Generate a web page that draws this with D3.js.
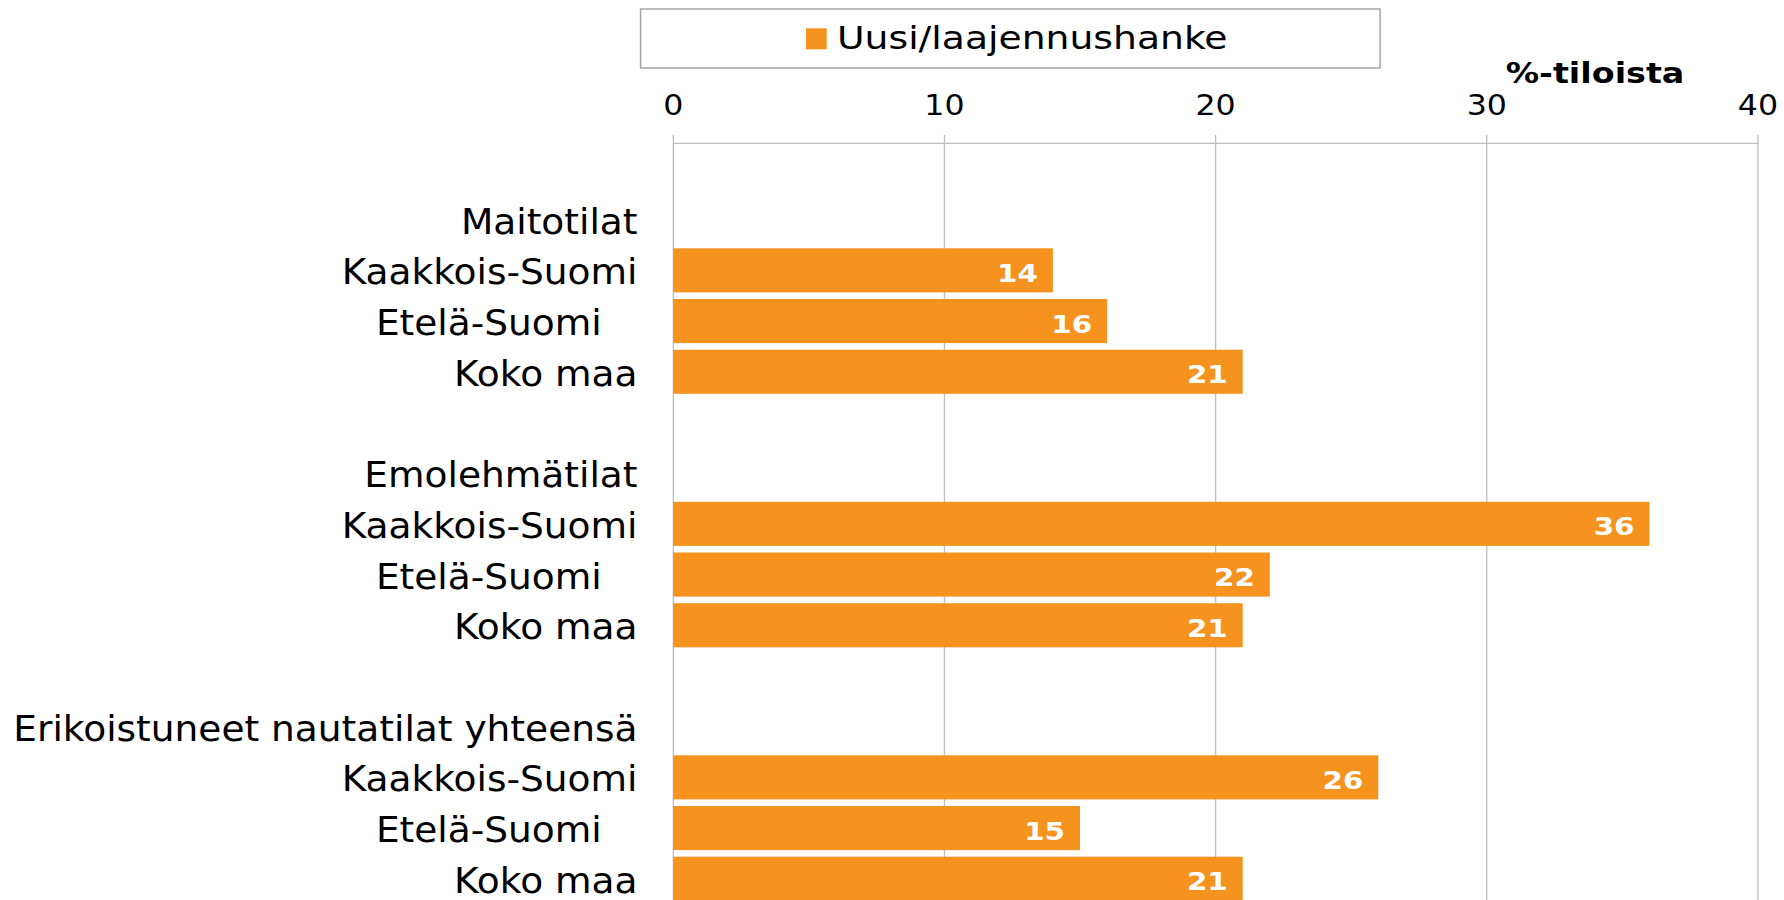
<!DOCTYPE html>
<html>
<head>
<meta charset="utf-8">
<script src="https://cdn.jsdelivr.net/npm/d3@7"></script>
<style>
  body { margin: 0; background: #fff; }
  text { font-family: Verdana, "DejaVu Sans", sans-serif; white-space: pre; }
</style>
</head>
<body>
<svg id="chart"></svg>
<script>
// data
var groups = ["Maitotilat", "Emolehmätilat", "Erikoistuneet nautatilat yhteensä"];
var regions = ["Kaakkois-Suomi", "Etelä-Suomi   ", "Koko maa"];
var maitotilat = [14, 16, 21];
var emolehmatilat = [36, 22, 21];
var nautatilatYht = [26, 15, 21];
var xTicks = [0, 10, 20, 30, 40];
var seriesName = "Uusi/laajennushanke";
var axisTitle = "%-tiloista";

var groupValues = [maitotilat, emolehmatilat, nautatilatYht];

// one row per line of the chart: blank, group header, then the regions
var rows = [];
groups.forEach(function (g, gi) {
        rows.push({ label: "", value: null });
        rows.push({ label: g, value: null });
        regions.forEach(function (r, ri) {
                rows.push({ label: r, value: groupValues[gi][ri] });
        });
});
rows = rows.map(function (d, i) { d.id = i; return d; });

var W = 1784, H = 900;
var SX = 1.15; // text in the original is a bit wider than DejaVu
var orange = "#f6921e";
var grid = "#bdbdbd";

var x0 = 673.3, x1 = 1757.9, yTop = 143.6, step = 50.7;

var x = d3.scaleLinear()
        .domain([0, 40])
        .range([x0, x1]);

var y = d3.scaleBand()
        .domain(rows.map(function (d) { return d.id; }))
        .range([yTop, yTop + rows.length * step])
        .paddingInner(0.13)
        .paddingOuter(0.065);

var svg = d3.select("#chart")
        .attr("width", W)
        .attr("height", H);

function stretched(sel, px, py, sx) {
        return sel.attr("transform", "translate(" + px + "," + py + ") scale(" + (sx || SX) + ",1)");
}

// grid lines (run from just above the axis to the bottom)
svg.append("g")
        .selectAll("line")
        .data(xTicks)
        .enter().append("line")
        .attr("x1", function (d) { return x(d); })
        .attr("x2", function (d) { return x(d); })
        .attr("y1", yTop - 8.5)
        .attr("y2", H)
        .attr("stroke", grid)
        .attr("stroke-width", 1.3);

// top axis line
svg.append("line")
        .attr("x1", x(0)).attr("x2", x(40))
        .attr("y1", 143.3).attr("y2", 143.3)
        .attr("stroke", grid)
        .attr("stroke-width", 1.3);

// tick labels
svg.append("g")
        .selectAll("text")
        .data(xTicks)
        .enter().append("text")
        .each(function (d) { stretched(d3.select(this), x(d), 115); })
        .attr("text-anchor", "middle")
        .style("font-size", "27.5px")
        .attr("fill", "#000")
        .text(function (d) { return d; });

// axis title
stretched(svg.append("text"), 1595, 83)
        .attr("text-anchor", "middle")
        .style("font-size", "29px")
        .style("font-weight", "bold")
        .text(axisTitle);

// bars
var bars = rows.filter(function (d) { return d.value !== null; });

svg.append("g")
        .selectAll("rect")
        .data(bars)
        .enter().append("rect")
        .attr("x", x(0))
        .attr("y", function (d) { return y(d.id); })
        .attr("width", function (d) { return x(d.value) - x(0); })
        .attr("height", y.bandwidth())
        .attr("fill", orange);

// value labels inside bar ends
svg.append("g")
        .selectAll("text")
        .data(bars)
        .enter().append("text")
        .each(function (d) {
                stretched(d3.select(this), x(d.value) - 15, y(d.id) + y.bandwidth() / 2 + 11.5);
        })
        .attr("text-anchor", "end")
        .style("font-size", "25.5px")
        .style("font-weight", "bold")
        .attr("fill", "#fff")
        .text(function (d) { return d.value; });

// category labels
svg.append("g")
        .selectAll("text")
        .data(rows.filter(function (d) { return d.label !== ""; }))
        .enter().append("text")
        .each(function (d) {
                stretched(d3.select(this), 637.5, y(d.id) + y.bandwidth() / 2 + 14, 1.042);
        })
        .attr("text-anchor", "end")
        .style("font-size", "36px")
        .attr("fill", "#000")
        .text(function (d) { return d.label; });

// legend
var legend = svg.append("g");
legend.append("rect")
        .attr("x", 640.6).attr("y", 9)
        .attr("width", 739.5).attr("height", 59)
        .attr("fill", "#fff")
        .attr("stroke", "#a6a6a6")
        .attr("stroke-width", 1.5);
legend.append("rect")
        .attr("x", 806).attr("y", 28.3)
        .attr("width", 20.7).attr("height", 21)
        .attr("fill", orange);
stretched(legend.append("text"), 837, 49)
        .style("font-size", "32.8px")
        .attr("fill", "#000")
        .text(seriesName);
</script>
</body>
</html>
